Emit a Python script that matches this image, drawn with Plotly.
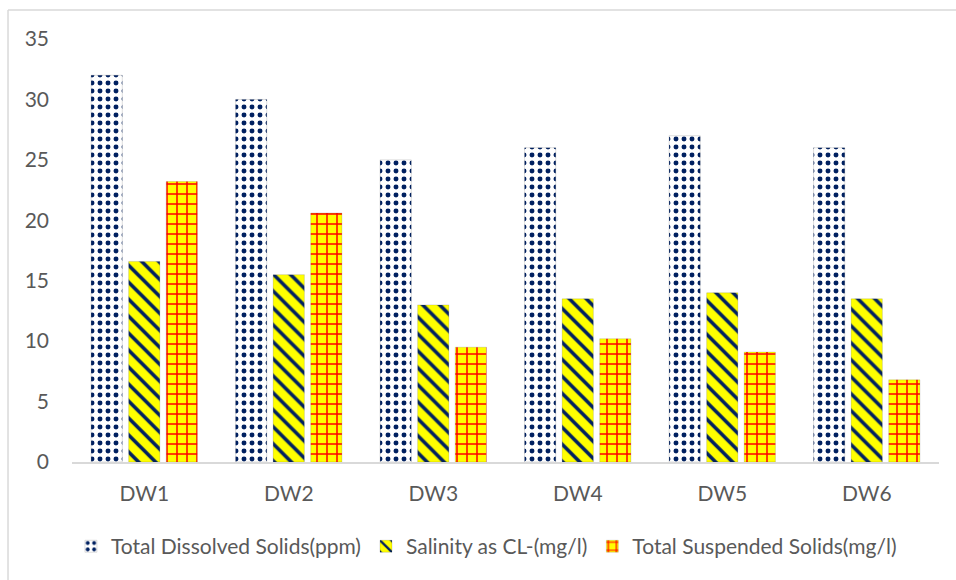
import plotly.graph_objects as go

categories = ["DW1", "DW2", "DW3", "DW4", "DW5", "DW6"]
tds = [32, 30, 25, 26, 27, 26]
salinity = [16.6, 15.5, 13, 13.5, 14, 13.5]
tss = [23.2, 20.6, 9.5, 10.2, 9.1, 6.8]
series_names = ["Total Dissolved Solids(ppm)", "Salinity as CL-(mg/l)", "Total Suspended Solids(mg/l)"]

FONT = "Lato"
GRAY = "#595959"
NAVY = "#002060"
EDGE = dict(color="rgba(0,0,0,0.13)", width=1)

fig = go.Figure()
fig.add_trace(go.Bar(
    x=categories, y=tds, name=series_names[0],
    marker=dict(color="white", line=EDGE,
                pattern=dict(shape=".", fgcolor=NAVY, bgcolor="white", size=8, solidity=0.3, fillmode="replace")),
))
fig.add_trace(go.Bar(
    x=categories, y=salinity, name=series_names[1],
    marker=dict(color="#FFFF00", line=EDGE,
                pattern=dict(shape="\\", fgcolor=NAVY, bgcolor="#FFFF00", size=12, solidity=0.3, fillmode="replace")),
))
fig.add_trace(go.Bar(
    x=categories, y=tss, name=series_names[2],
    marker=dict(color="#FFFF00", line=EDGE,
                pattern=dict(shape="+", fgcolor="#FF0000", bgcolor="#FFFF00", size=10, solidity=0.28, fillmode="replace")),
))

fig.update_layout(
    width=956, height=580,
    margin=dict(l=72, r=17, t=39, b=118),
    paper_bgcolor="white", plot_bgcolor="white",
    barmode="group", bargap=0.22, bargroupgap=0.17,
    font=dict(family=FONT, size=21, color=GRAY),
    showlegend=True,
    legend=dict(orientation="h", x=0.478, xanchor="center", y=-0.2, yanchor="middle",
                font=dict(family=FONT, size=21, color=GRAY), itemwidth=30, traceorder="normal"),
    shapes=[
        dict(type="line", xref="paper", yref="paper", x0=-0.0738, x1=1.05, y0=1.0685, y1=1.0685,
             line=dict(color="#d9d9d9", width=1.5)),
        dict(type="line", xref="paper", yref="paper", x0=-0.0738, x1=-0.0738, y0=1.0685, y1=-0.4,
             line=dict(color="#d9d9d9", width=1.5)),
    ],
)
fig.update_xaxes(showgrid=False, showline=True, linecolor="#d9d9d9", linewidth=1.5,
                 ticks="", tickfont=dict(size=21, color=GRAY, family=FONT), ticklabelstandoff=12)
fig.update_yaxes(range=[0, 35], dtick=5, showgrid=False, showline=False, zeroline=False,
                 ticks="", tickfont=dict(size=21, color=GRAY, family=FONT), ticklabelstandoff=22)

fig.write_html("out.html", config={"displayModeBar": False},
               post_script="document.body.style.margin='0';")
